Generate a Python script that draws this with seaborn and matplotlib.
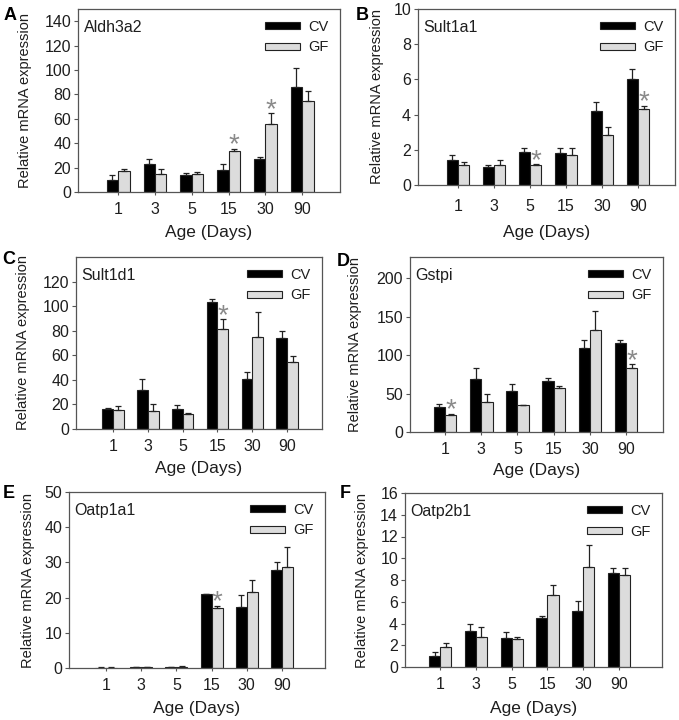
import numpy as np
import pandas as pd
import matplotlib
matplotlib.use('Agg')
import matplotlib.pyplot as plt
import seaborn as sns
from matplotlib.patches import Patch

# ---------------- data ----------------
ages = ['1', '3', '5', '15', '30', '90']
groups = ['CV', 'GF']

aldh3a2_cv = [10, 23, 14, 18, 27, 86]
aldh3a2_cv_err = [4, 4, 1.5, 5, 2, 15.5]
aldh3a2_gf = [17, 15, 15, 34, 56, 74.5]
aldh3a2_gf_err = [2, 4, 1, 1.5, 8.5, 8.5]
aldh3a2_sig = ['15', '30']

sult1a1_cv = [1.42, 1.05, 1.85, 1.8, 4.23, 6.03]
sult1a1_cv_err = [0.27, 0.1, 0.25, 0.33, 0.5, 0.57]
sult1a1_gf = [1.12, 1.12, 1.12, 1.68, 2.82, 4.3]
sult1a1_gf_err = [0.2, 0.32, 0.06, 0.45, 0.45, 0.2]
sult1a1_sig = ['5', '90']

sult1d1_cv = [16, 32, 16.5, 103, 40.5, 74]
sult1d1_cv_err = [1.5, 8.5, 3, 2.5, 5.5, 6]
sult1d1_gf = [15.5, 15, 12.5, 81.5, 75, 54.5]
sult1d1_gf_err = [3, 5, 0.5, 8, 20, 5]
sult1d1_sig = ['15']

gstpi_cv = [32, 69, 53, 67, 109, 116]
gstpi_cv_err = [4, 14, 9, 3.5, 11, 4]
gstpi_gf = [21.5, 39, 35, 57.5, 132.5, 83]
gstpi_gf_err = [2.5, 10, 0.5, 2.5, 25, 5]
gstpi_sig = ['1', '90']

oatp1a1_cv = [0.1, 0.3, 0.25, 20.9, 17.4, 27.7]
oatp1a1_cv_err = [0.05, 0.1, 0.1, 0.2, 3.4, 2.3]
oatp1a1_gf = [0.1, 0.3, 0.35, 17, 21.6, 28.8]
oatp1a1_gf_err = [0.05, 0.1, 0.1, 0.7, 3.4, 5.6]
oatp1a1_sig = ['15']

oatp2b1_cv = [1.0, 3.27, 2.65, 4.5, 5.15, 8.6]
oatp2b1_cv_err = [0.36, 0.73, 0.55, 0.2, 0.95, 0.5]
oatp2b1_gf = [1.85, 2.8, 2.6, 6.64, 9.2, 8.5]
oatp2b1_gf_err = [0.35, 0.9, 0.15, 0.86, 2.0, 0.6]
oatp2b1_sig = []

panel_letters = ['A', 'B', 'C', 'D', 'E', 'F']
gene_names = ['Aldh3a2', 'Sult1a1', 'Sult1d1', 'Gstpi', 'Oatp1a1', 'Oatp2b1']
y_limits = [(0, 150), (0, 10), (0, 140), (0, 228), (0, 50), (0, 16)]
y_ticks = [np.arange(0, 141, 20), np.arange(0, 11, 2), np.arange(0, 121, 20),
           np.arange(0, 201, 50), np.arange(0, 51, 10), np.arange(0, 17, 2)]

# ---------------- layout (pixels) ----------------
W, H = 679, 720
# left, right, top, bottom of each axes box
boxes = [(78, 340, 9, 192), (418, 675, 9, 185),
         (76, 322, 257, 429), (410, 663, 257, 432),
         (69, 325, 492, 668), (405, 662, 493, 667)]
x_limits = [(-1.09, 6.03), (-1.11, 6.03), (-1.06, 6.0),
            (-0.97, 6.02), (-1.05, 6.22), (-0.98, 6.2)]
ylabel_x = [25, 377, 23, 355, 28, 362]
xlabel_y = [232, 232, 468, 471, 708, 708]
xtick_pad = [5, 8, 5, 5, 5, 5]
letter_pos = [(10, 15), (362, 15), (9, 259), (343, 261), (9, 493), (345, 494)]

sns.set_theme(style='white')
plt.rcParams['font.family'] = ['Liberation Sans', 'DejaVu Sans']

fig = plt.figure(figsize=(W / 100, H / 100), dpi=100)

series = [
    (aldh3a2_cv, aldh3a2_cv_err, aldh3a2_gf, aldh3a2_gf_err, aldh3a2_sig),
    (sult1a1_cv, sult1a1_cv_err, sult1a1_gf, sult1a1_gf_err, sult1a1_sig),
    (sult1d1_cv, sult1d1_cv_err, sult1d1_gf, sult1d1_gf_err, sult1d1_sig),
    (gstpi_cv, gstpi_cv_err, gstpi_gf, gstpi_gf_err, gstpi_sig),
    (oatp1a1_cv, oatp1a1_cv_err, oatp1a1_gf, oatp1a1_gf_err, oatp1a1_sig),
    (oatp2b1_cv, oatp2b1_cv_err, oatp2b1_gf, oatp2b1_gf_err, oatp2b1_sig),
]

text_col = '#1e1e1e'
spine_col = '#555555'
gf_col = '#dcdcdc'

for i, (cv, cv_err, gf, gf_err, sig) in enumerate(series):
    L, R, T, B = boxes[i]
    ax = fig.add_axes([L / W, 1 - B / H, (R - L) / W, (B - T) / H])
    df = pd.DataFrame({'Age': ages * 2,
                       'Group': ['CV'] * len(ages) + ['GF'] * len(ages),
                       'Value': list(cv) + list(gf)})
    sns.barplot(data=df, x='Age', y='Value', hue='Group', order=ages,
                hue_order=groups, palette={'CV': 'black', 'GF': gf_col},
                saturation=1, edgecolor='#222222', linewidth=0.8, width=0.62,
                errorbar=None, legend=False, ax=ax)
    bars = ax.patches[:2 * len(ages)]
    errs = list(cv_err) + list(gf_err)
    xs = [p.get_x() + p.get_width() / 2 for p in bars]
    hs = [p.get_height() for p in bars]
    ax.errorbar(xs, hs, yerr=[np.zeros(len(errs)), errs], fmt='none',
                ecolor='#222222', elinewidth=0.9, capsize=2.2, capthick=0.9,
                zorder=1)
    # significance stars above GF bars
    for j, age in enumerate(ages):
        if age in sig:
            k = len(ages) + j
            ax.annotate('*', xy=(xs[k], hs[k] + errs[k]), xytext=(0, -7),
                        textcoords='offset points', ha='center', va='bottom',
                        fontsize=20, color='#8a8a8a')
    ax.set_xlim(*x_limits[i])
    ax.set_ylim(*y_limits[i])
    ax.set_yticks(y_ticks[i])
    for s in ax.spines.values():
        s.set_color(spine_col)
        s.set_linewidth(0.9)
        s.set_visible(True)
    ax.tick_params(axis='y', direction='out', length=3, width=0.8,
                   color=spine_col, labelsize=11.5, pad=2, labelcolor=text_col, left=True)
    ax.tick_params(axis='x', direction='out', length=2, width=0.8,
                   color=spine_col, labelsize=11.5, pad=xtick_pad[i], labelcolor=text_col, bottom=True)
    ax.set_ylabel('Relative mRNA expression', fontsize=10.5, color=text_col)
    ax.yaxis.set_label_coords((ylabel_x[i] - L) / (R - L), 0.5)
    ax.yaxis.label.set_va('center')
    ax.set_xlabel('Age (Days)', fontsize=12.5, color=text_col)
    ax.xaxis.set_label_coords(0.5, -(xlabel_y[i] - B) / (B - T))
    ax.xaxis.label.set_va('center')
    ax.annotate(gene_names[i], xy=(0, 1), xycoords='axes fraction',
                xytext=(4, -13), textcoords='offset points', ha='left',
                va='center', fontsize=11.5, color=text_col)
    handles = [Patch(facecolor='black', edgecolor='#222222', linewidth=0.8),
               Patch(facecolor=gf_col, edgecolor='#222222', linewidth=0.8)]
    ax.legend(handles, groups, loc='upper right', frameon=False,
              handlelength=2.4, handleheight=0.35, fontsize=10.5,
              labelspacing=0.45, handletextpad=0.6, borderaxespad=0.35,
              labelcolor=text_col)
    lx, ly = letter_pos[i]
    fig.text(lx / W, 1 - ly / H, panel_letters[i], fontsize=13,
             fontweight='bold', ha='center', va='center', color='black')

fig.savefig('out.png', dpi=100)
